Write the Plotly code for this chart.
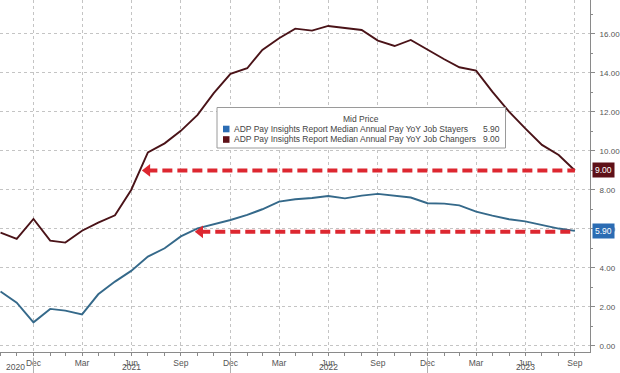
import plotly.graph_objects as go
import pandas as pd

months = pd.date_range("2020-10-31", "2023-09-30", freq="ME")

job_changers = [5.81, 5.49, 6.51, 5.40, 5.30, 5.91, 6.32, 6.70, 8.00, 9.93, 10.39, 11.03,
                11.85, 12.96, 13.95, 14.24, 15.18, 15.78, 16.27, 16.17, 16.41, 16.30, 16.20, 15.66,
                15.38, 15.69, 15.18, 14.70, 14.29, 14.12, 13.04, 12.02, 11.16, 10.31, 9.79, 9.00]
job_stayers = [2.79, 2.22, 1.21, 1.90, 1.81, 1.62, 2.65, 3.30, 3.85, 4.58, 5.01, 5.62,
               6.03, 6.24, 6.46, 6.72, 7.01, 7.40, 7.52, 7.59, 7.69, 7.57, 7.71, 7.80,
               7.71, 7.61, 7.32, 7.30, 7.21, 6.89, 6.68, 6.50, 6.39, 6.21, 6.02, 5.90]

series_names = ["ADP Pay Insights Report Median Annual Pay YoY Job Stayers",
                "ADP Pay Insights Report Median Annual Pay YoY Job Changers"]
last_labels = ["5.90", "9.00"]

arrow_starts = ["2021-07-30", "2021-11-05"]
arrow_levels = [9.0, 5.85]

tick_dates = ["2020-12-31", "2021-03-31", "2021-06-30", "2021-09-30",
              "2021-12-31", "2022-03-31", "2022-06-30", "2022-09-30",
              "2022-12-31", "2023-03-31", "2023-06-30", "2023-09-30"]
tick_text = ["Dec", "Mar", "Jun", "Sep"] * 3
year_labels = ["2020", "2021", "2022", "2023"]
year_pos = ["2020-11-28", "2021-06-30", "2022-06-30", "2023-06-30"]
year_seps = ["2020-12-31", "2021-12-31", "2022-12-31"]

BLUE_LINE = "#35698a"
RED_LINE = "#4a1318"
BLUE_BOX = "#2b6cb3"
RED_BOX = "#5e1118"
ARROW = "#dd2730"
GRID = "#c4c4c4"
TXT = "#555555"
FONT = "Liberation Sans"

fig = go.Figure()
fig.add_trace(go.Scatter(x=months, y=job_stayers, mode="lines",
                         line=dict(color=BLUE_LINE, width=1.9), showlegend=False))
fig.add_trace(go.Scatter(x=months, y=job_changers, mode="lines",
                         line=dict(color=RED_LINE, width=1.9), showlegend=False))

for start, lvl in zip(arrow_starts, arrow_levels):
    fig.add_trace(go.Scatter(x=[start, months[-1]], y=[lvl, lvl], mode="lines",
                             line=dict(color=ARROW, width=4, dash="10px,5px"),
                             showlegend=False))
    fig.add_trace(go.Scatter(x=[start], y=[lvl], mode="markers",
                             marker=dict(symbol="triangle-left", size=11, color=ARROW,
                                         line=dict(width=0)),
                             showlegend=False))

fig.update_layout(
    width=620, height=373,
    margin=dict(l=0, r=30, t=0, b=21),
    paper_bgcolor="white", plot_bgcolor="white",
    font=dict(family=FONT, size=8, color=TXT),
    xaxis=dict(type="date", range=["2020-10-30", "2023-10-28"],
               tickvals=tick_dates, ticktext=tick_text,
               showgrid=True, gridcolor=GRID, griddash="dot", gridwidth=1,
               showline=True, linecolor="#8a8a8a", linewidth=1,
               ticks="outside", ticklen=3, tickcolor="#8a8a8a",
               tickfont=dict(size=8.5, color=TXT),
               minor=dict(tickvals=list(months), ticks="outside", ticklen=3,
                          tickcolor="#8a8a8a", showgrid=False),
               zeroline=False, fixedrange=True, automargin=False),
    yaxis=dict(side="right", range=[-0.31, 17.74], dtick=2, tick0=0,
               tickformat=".2f",
               showgrid=True, gridcolor=GRID, griddash="dot", gridwidth=1,
               showline=True, linecolor="#8a8a8a", linewidth=1,
               ticks="outside", ticklen=4, tickcolor="#8a8a8a",
               tickfont=dict(size=8, color=TXT), ticklabelstandoff=3,
               minor=dict(dtick=1, ticks="outside", ticklen=2, tickcolor="#8a8a8a",
                          showgrid=False),
               zeroline=False, fixedrange=True, automargin=False),
)

# year labels and separators
for lbl, pos in zip(year_labels, year_pos):
    fig.add_annotation(x=pos, y=-0.043, xref="x", yref="paper", text=lbl,
                       showarrow=False, font=dict(size=8.5, color=TXT),
                       xanchor="center", yanchor="middle")
for sep in year_seps:
    fig.add_shape(type="line", x0=sep, x1=sep, xref="x", yref="paper",
                  y0=-0.016, y1=-0.065, line=dict(color="#b0b0b0", width=1))

# last-value boxes on right axis
for lbl, val, col in zip(last_labels, [job_stayers[-1], job_changers[-1]], [BLUE_BOX, RED_BOX]):
    fig.add_annotation(x=1, y=val, xref="paper", yref="y", text=lbl,
                       showarrow=False, xanchor="left", yanchor="middle", xshift=2,
                       font=dict(size=8.5, color="white"), bgcolor=col, borderpad=2)

# legend box
H = 352.0
def py(p):
    return 1 - p / H
fig.add_shape(type="rect", xref="paper", yref="paper",
              x0=217 / 590, x1=505.5 / 590, y0=py(148), y1=py(107.5),
              line=dict(color="#9a9a9a", width=1), fillcolor="white", layer="above")
fig.add_annotation(x=361 / 590, y=py(118.5), xref="paper", yref="paper", text="Mid Price",
                   showarrow=False, xanchor="center", yanchor="middle",
                   font=dict(size=8.5, color="#444444"))
for i, (name, lbl, col) in enumerate(zip(series_names, last_labels, [BLUE_BOX, RED_BOX])):
    yc = 129 + i * 10.5
    fig.add_shape(type="rect", xref="paper", yref="paper",
                  x0=223 / 590, x1=229.5 / 590, y0=py(yc + 3.3), y1=py(yc - 3.3),
                  line=dict(width=0), fillcolor=col, layer="above")
    fig.add_annotation(x=232 / 590, y=py(yc), xref="paper", yref="paper", text=name,
                       showarrow=False, xanchor="left", yanchor="middle",
                       font=dict(size=8.5, color="#444444"))
    fig.add_annotation(x=502 / 590, y=py(yc), xref="paper", yref="paper", text=lbl,
                       showarrow=False, xanchor="right", yanchor="middle",
                       font=dict(size=8.5, color="#444444"))

fig.write_html("out.html", config={"displayModeBar": False},
               post_script="document.body.style.margin='0';document.body.style.overflow='hidden';")
